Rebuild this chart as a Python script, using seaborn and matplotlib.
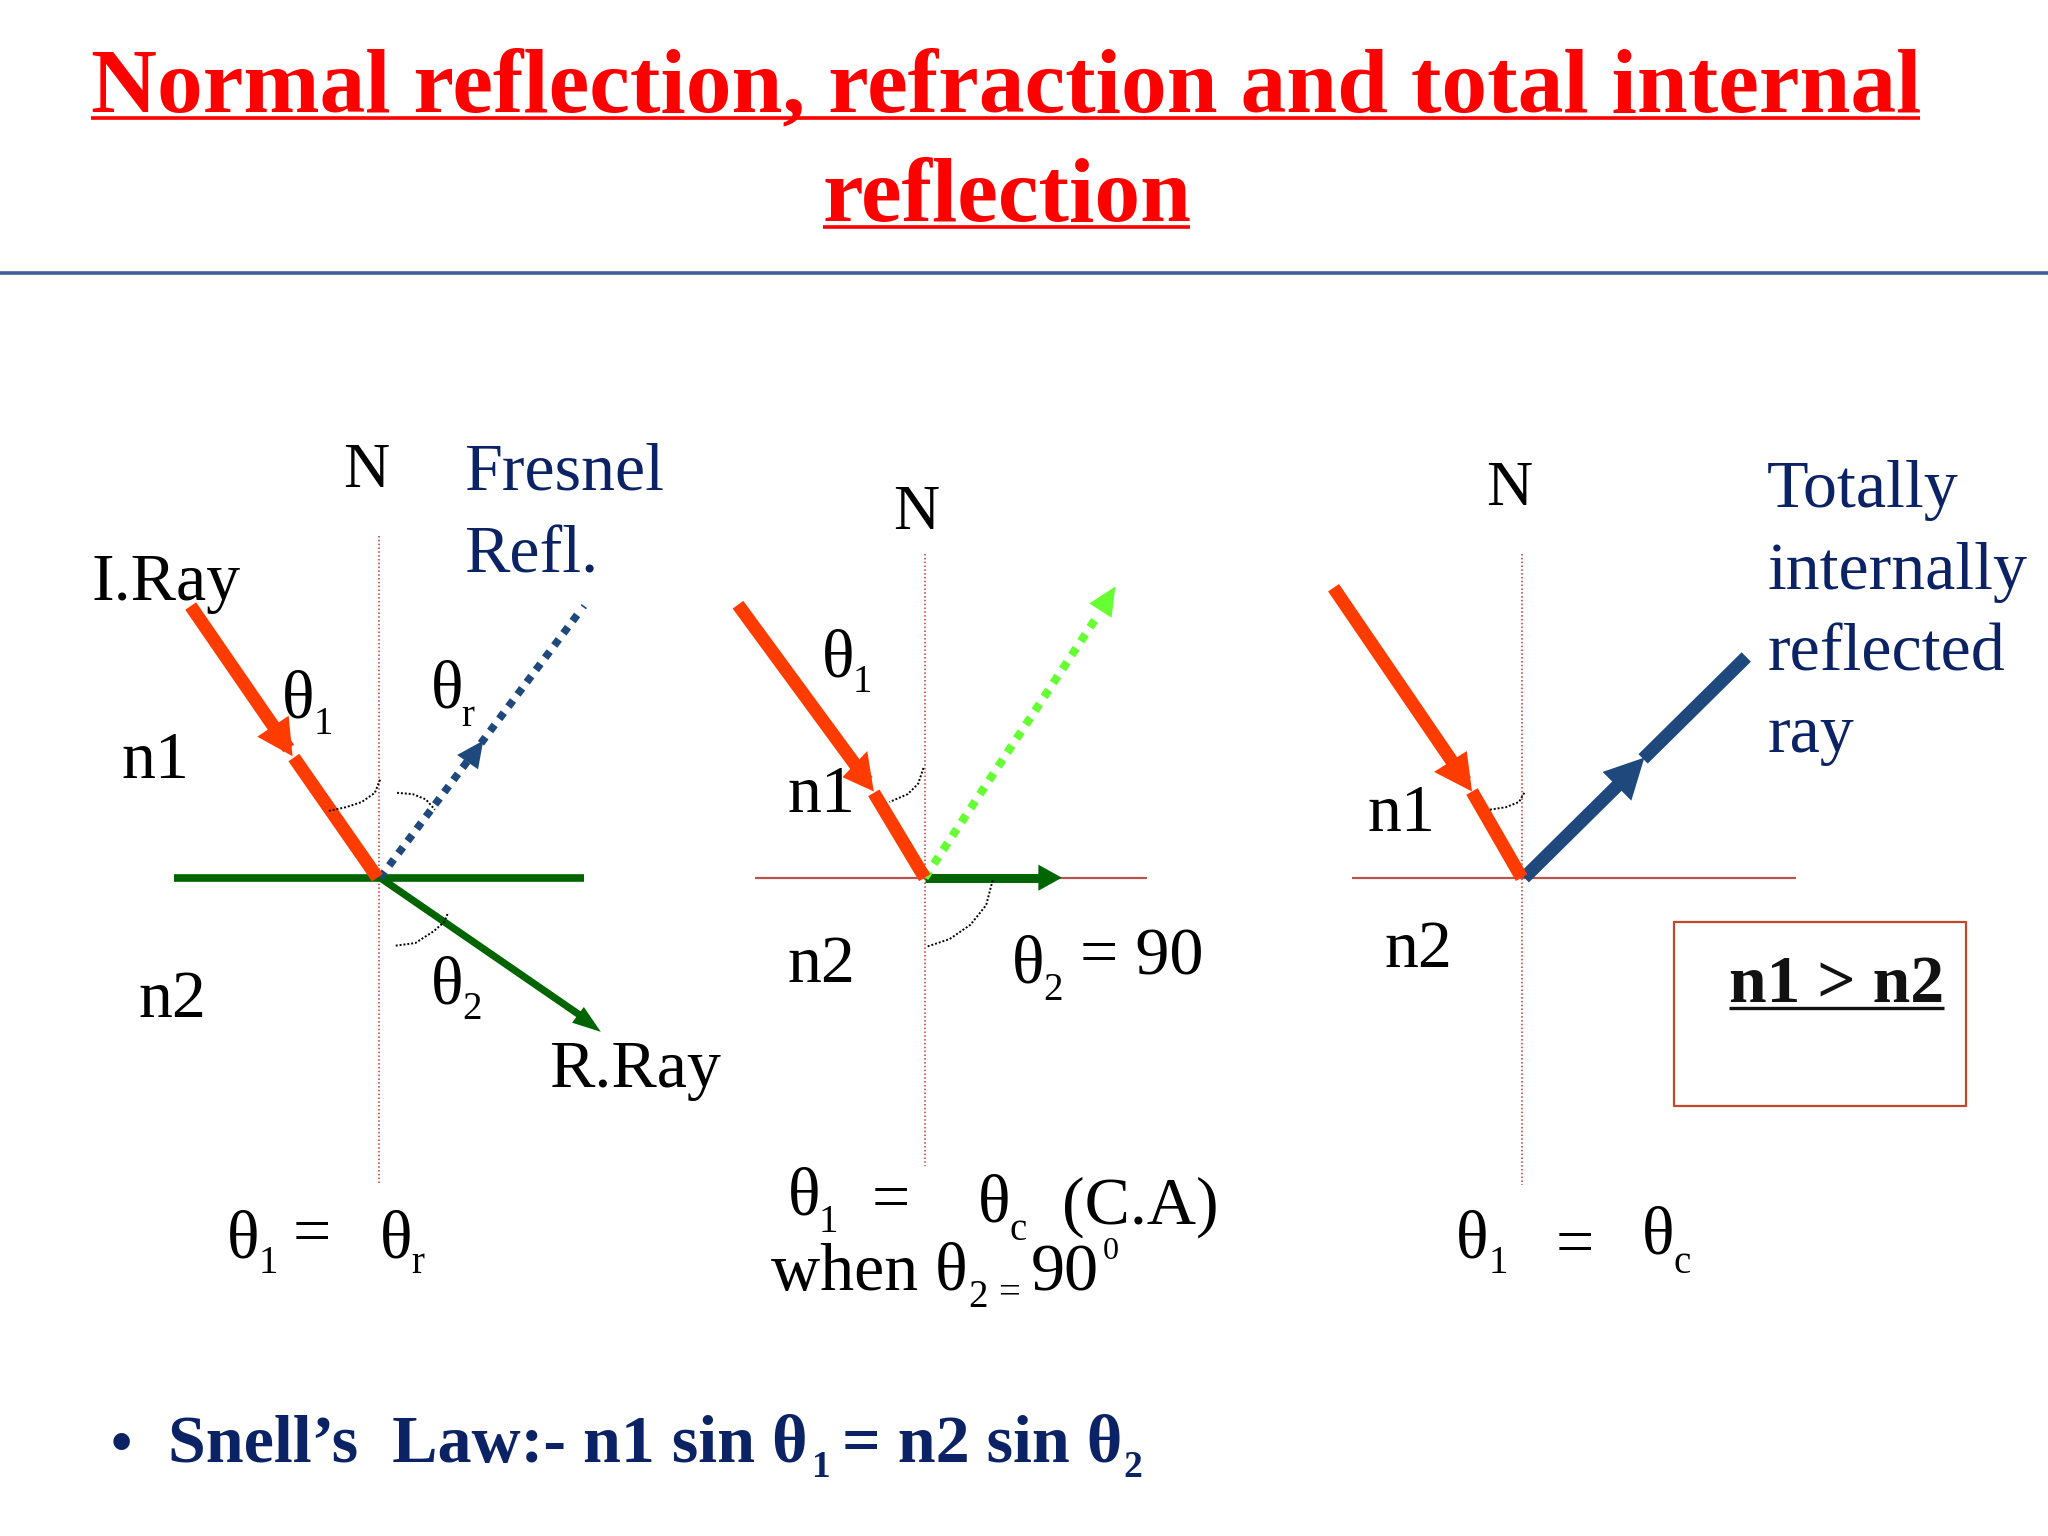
import seaborn as sns
from matplotlib import pyplot as plt

sns.set_theme(style='white')
plt.rcParams['font.family'] = ['Liberation Serif', 'DejaVu Serif']

RED = '#ff3c00'
NAVY_RAY = '#1f497d'
GREEN = '#006400'
LIME = '#66ff33'
NAVY_TEXT = '#0b2265'
BROWN = '#b8564e'
NORMAL = '#c0392b'

#title lines : text, left x, baseline y, underline end x
title_lines = [('Normal reflection, refraction and total internal', 70, 85, 1470),
               ('reflection', 630, 169, 911)]

#normals and interfaces
normal_x = [290.5, 708, 1165]
normal_top = [410, 424, 424]
normal_bottom = [907, 893, 907]
interface_y = 672
interface_left = [578, 1035]
interface_right = [878, 1375]
green_interface = [133, 447]

#ray segments without heads : start, end
red_segments = [((146, 464), (221, 573)), ((225, 580), (289, 672)),
                ((565, 463), (664, 598)), ((669, 607), (708, 672)),
                ((1021, 450), (1122, 598)), ((1127, 606), (1165, 672))]
blue_segments = [((1167, 672), (1250, 590)), ((1258, 581), (1337, 503))]
ray_green = ((291, 672), (448, 780))
arrow_green = ((708, 672), (796, 672))
fresnel_dots = [(291, 672), (444, 468)]
fresnel_tail = [(445, 463), (449, 466)]
lime_dots = [(708, 672), (840, 472)]

#arrow heads : tip, wing, wing, colour
heads = [((224, 579), (197, 564), (221, 548), RED),
         ((669, 606), (645, 595), (664, 575), RED),
         ((1127, 606), (1098, 591), (1123, 575), RED),
         ((370, 567), (350, 578), (366, 589), NAVY_RAY),
         ((854, 449), (834, 462), (851, 473), LIME),
         ((1259, 580), (1227, 591), (1249, 613), NAVY_RAY),
         ((460, 790), (438, 783), (447, 771), GREEN),
         ((813, 672), (795, 662), (795, 682), GREEN)]

#dotted angle marks
angle_arcs = [[(291, 597), (287, 607), (277, 614), (265, 618), (251, 621)],
              [(304, 607), (316, 608), (326, 612), (333, 620)],
              [(303, 724), (318, 722), (332, 713), (340, 706), (343, 699)],
              [(707, 588), (703, 600), (695, 608), (681, 614)],
              [(760, 674), (755, 693), (743, 708), (727, 719), (709, 725)],
              [(1167, 607), (1163, 614), (1153, 618), (1140, 620)]]

#box
box_x = [1282, 1505, 1505, 1282, 1282]
box_y = [706, 706, 847, 847, 706]

#text : label, left x, baseline y
n_labels = [('N', 263, 373), ('N', 684, 405), ('N', 1138, 387)]
black_labels = [('I.Ray', 70, 459), ('θ', 216, 549), ('n1', 93, 596),
                ('n2', 106, 779), ('θ', 330, 542), ('θ', 330, 768), ('R.Ray', 420, 832),
                ('θ', 174, 963), ('=', 224, 959), ('θ', 291, 963),
                ('θ', 629, 518), ('n1', 603, 622), ('n2', 603, 752),
                ('θ', 775, 752), ('= 90', 827, 746), ('θ', 603, 930), ('=', 667, 933),
                ('θ', 749, 935), ('(C.A)', 813, 937), ('when θ', 590, 988), ('90', 789, 988),
                ('n1', 1047, 636), ('n2', 1060, 740),
                ('θ', 1115, 963), ('=', 1191, 968), ('θ', 1257, 960)]
small_labels = [('1', 240, 562), ('r', 353, 556), ('2', 354, 780), ('1', 198, 975), ('r', 315, 975),
                ('1', 653, 530), ('2', 799, 766), ('1', 627, 943), ('c', 773, 949),
                ('2', 741, 1001), ('=', 764, 998),
                ('1', 1140, 975), ('c', 1281, 975)]
degree_label = ('0', 844, 964)
navy_labels = [('Fresnel', 355, 375), ('Refl.', 355, 438),
               ('Totally', 1353, 388), ('internally', 1353, 451),
               ('reflected', 1353, 513), ('ray', 1353, 576)]
bullet_label = ('•', 85, 1119)
snell_labels = [('Snell’s  Law:- n1 sin θ', 129, 1119), ('= n2 sin θ', 645, 1119)]
snell_small = [('1', 622, 1131), ('2', 860, 1131)]
box_label = ('n1 > n2', 1324, 767, 1488)

fig = plt.figure(figsize=(20.48, 15.36), dpi=100, facecolor='white')
ax = fig.add_axes([0, 0, 1, 1])


def seg(a, b, color, lw, **kw):
    sns.lineplot(x=[a[0], b[0]], y=[a[1], b[1]], ax=ax, color=color, linewidth=lw,
                 sort=False, estimator=None, legend=False, **kw)


#title and rule
for label, x, y, x_end in title_lines:
    ax.text(x, y, label, color='#ff0000', fontsize=65.8, fontweight='bold', va='baseline')
    seg((x, y + 5), (x_end, y + 5), '#ff0000', 2.6, solid_capstyle='butt')
seg((0, 209), (1568, 209), '#3f5f9a', 2.6, solid_capstyle='butt')

#normals
for x, top, bottom in zip(normal_x, normal_top, normal_bottom):
    seg((x, top), (x, bottom), NORMAL, 1.1, linestyle=(0, (1, 1.5)), dash_capstyle='butt')

#interfaces
for left, right in zip(interface_left, interface_right):
    seg((left, interface_y), (right, interface_y), BROWN, 1.6, solid_capstyle='butt')
seg((green_interface[0], interface_y), (green_interface[1], interface_y), GREEN, 5.5, solid_capstyle='butt')

#rays
seg(*ray_green, GREEN, 5.2, solid_capstyle='butt')
seg(*arrow_green, GREEN, 6.5, solid_capstyle='butt')
seg(*fresnel_dots, NAVY_RAY, 5.5, linestyle=(0, (1, 1)), dash_capstyle='butt')
seg(*fresnel_tail, NAVY_RAY, 1.2, solid_capstyle='butt')
seg(*lime_dots, LIME, 6, linestyle=(0, (1, 1)), dash_capstyle='butt')
for a, b in blue_segments:
    seg(a, b, NAVY_RAY, 9.5, solid_capstyle='butt')
for a, b in red_segments:
    seg(a, b, RED, 9.5, solid_capstyle='butt')

for tip, wing1, wing2, color in heads:
    ax.fill([tip[0], wing1[0], wing2[0]], [tip[1], wing1[1], wing2[1]], color=color, lw=0, zorder=4)

#angle marks
for arc in angle_arcs:
    sns.lineplot(x=[p[0] for p in arc], y=[p[1] for p in arc], ax=ax, color='black', linewidth=1.4,
                 linestyle=(0, (1, 1)), sort=False, estimator=None, legend=False)

#box
sns.lineplot(x=box_x, y=box_y, ax=ax, color='#c0492b', linewidth=1.6, sort=False, estimator=None, legend=False)

#labels
for label, x, y in n_labels:
    ax.text(x, y, label, color='black', fontsize=46, va='baseline')
for label, x, y in black_labels:
    ax.text(x, y, label, color='black', fontsize=49, va='baseline')
for label, x, y in small_labels:
    ax.text(x, y, label, color='black', fontsize=28, va='baseline')
ax.text(degree_label[1], degree_label[2], degree_label[0], color='black', fontsize=23, va='baseline')
for label, x, y in navy_labels:
    ax.text(x, y, label, color=NAVY_TEXT, fontsize=49, va='baseline')
ax.text(bullet_label[1], bullet_label[2], bullet_label[0], color=NAVY_TEXT, fontsize=44, fontweight='bold', va='baseline')
for label, x, y in snell_labels:
    ax.text(x, y, label, color=NAVY_TEXT, fontsize=49, fontweight='bold', va='baseline')
for label, x, y in snell_small:
    ax.text(x, y, label, color=NAVY_TEXT, fontsize=27, fontweight='bold', va='baseline')

ax.text(box_label[1], box_label[2], box_label[0], color='#111111', fontsize=48.7, fontweight='bold', va='baseline')
seg((box_label[1], box_label[2] + 5), (box_label[3], box_label[2] + 5), '#111111', 2.4, solid_capstyle='butt')

ax.set_xlim(0, 1568)
ax.set_ylim(1176, 0)
ax.axis('off')

plt.savefig('out.png', dpi=100, facecolor='white')
